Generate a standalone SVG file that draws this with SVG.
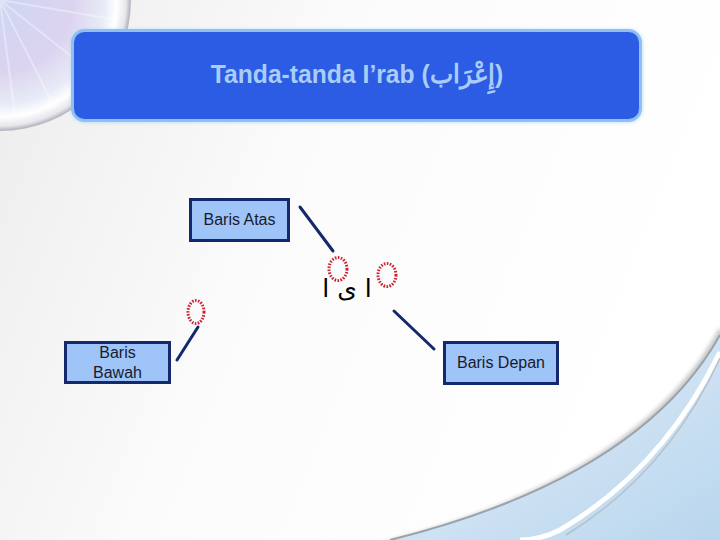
<svg xmlns="http://www.w3.org/2000/svg" width="720" height="540" viewBox="0 0 720 540">
  <defs>
    <linearGradient id="bg" x1="0" y1="0" x2="1" y2="0.3">
      <stop offset="0" stop-color="#ececec"/>
      <stop offset="0.45" stop-color="#fbfbfb"/>
      <stop offset="1" stop-color="#ffffff"/>
    </linearGradient>
    <radialGradient id="disc" cx="0" cy="0" r="130" gradientUnits="userSpaceOnUse">
      <stop offset="0" stop-color="#cdd6f2"/>
      <stop offset="0.55" stop-color="#dcd3ef"/>
      <stop offset="0.8" stop-color="#e7ebf7"/>
      <stop offset="0.9" stop-color="#ffffff"/>
      <stop offset="0.97" stop-color="#e6e6ec"/>
      <stop offset="1" stop-color="#b9b9c4"/>
    </radialGradient>
    <linearGradient id="curl" x1="0" y1="0" x2="1" y2="1">
      <stop offset="0" stop-color="#e6f0f8"/>
      <stop offset="1" stop-color="#b9d6ee"/>
    </linearGradient>
    <filter id="sh" x="-10%" y="-10%" width="120%" height="130%">
      <feGaussianBlur stdDeviation="2"/>
    </filter>
  </defs>
  <style>
    .box { fill: #9ec4f8; stroke: #14296b; stroke-width: 3; }
    .lbl { font-family: "Liberation Sans", Arial, sans-serif; font-size: 16px; fill: #1a1a2e; text-anchor: middle; }
    .conn { stroke: #14296b; stroke-width: 3; stroke-linecap: round; fill: none; }
    .ring { fill: none; stroke: #cc2233; stroke-width: 3; stroke-dasharray: 1.6 1.4; }
  </style>

  <rect width="720" height="540" fill="url(#bg)"/>

  <!-- top-left disc decoration -->
  <g id="decor-disc">
    <circle cx="0" cy="0" r="131" fill="url(#disc)"/>
    <path d="M0,0 L118,20 M0,0 L95,75 M0,0 L55,108 M0,0 L15,115" stroke="#ffffff" stroke-width="2" opacity="0.35"/>
  </g>

  <!-- bottom-right page curl -->
  <g id="decor-curl">
    <path d="M722,330 Q640,480 385,545" fill="none" stroke="#555" stroke-width="6" opacity="0.35" filter="url(#sh)"/>
    <path d="M720,335 Q640,478 390,540 L720,540 Z" fill="url(#curl)"/>
    <path d="M720,335 Q640,478 390,540" fill="none" stroke="#9aa3ad" stroke-width="2"/>
    <path d="M720,352 Q662,470 560,530 Q540,540 520,540" fill="none" stroke="#ffffff" stroke-width="5"/>
    <path d="M720,358 Q668,472 566,535" fill="none" stroke="#b6c0cc" stroke-width="1.5"/>
  </g>

  <!-- title -->
  <g id="title">
    <rect x="72" y="30" width="570" height="92" rx="13" fill="#8dbdf0" filter="url(#sh)" opacity="0.6"/>
    <rect x="72.5" y="30.5" width="568" height="90" rx="12" fill="#2b5ce3" stroke="#8ec1f2" stroke-width="3"/>
    <text x="357" y="83" font-family="'Liberation Sans', Arial, sans-serif" font-size="26" font-weight="bold" fill="#a9cdf6" text-anchor="middle" transform="translate(357 0) scale(0.95 1) translate(-357 0)">Tanda-tanda I’rab (إِعْرَاب)</text>
  </g>

  <!-- connectors -->
  <g id="connectors">
    <line class="conn" x1="300" y1="207" x2="333" y2="251"/>
    <line class="conn" x1="198" y1="327" x2="177" y2="360"/>
    <line class="conn" x1="394" y1="311" x2="434" y2="349"/>
  </g>

  <!-- center word -->
  <g id="word">
    <text x="347" y="297" font-family="'DejaVu Sans', 'Noto Sans', sans-serif" font-size="25" fill="#000" text-anchor="middle" direction="rtl">ا ى ا</text>
    <ellipse class="ring" cx="338" cy="269" rx="9" ry="11.5"/>
    <ellipse class="ring" cx="387" cy="275" rx="9" ry="11.5"/>
    <ellipse class="ring" cx="196" cy="312" rx="8" ry="11.5"/>
  </g>

  <g id="baris-atas">
    <rect class="box" x="190.5" y="199.5" width="98" height="41"/>
    <text class="lbl" x="239.5" y="225">Baris Atas</text>
  </g>

  <g id="baris-bawah">
    <rect class="box" x="65.5" y="342.5" width="104" height="40"/>
    <text class="lbl" x="117.5" y="358">Baris</text>
    <text class="lbl" x="117.5" y="378">Bawah</text>
  </g>

  <g id="baris-depan">
    <rect class="box" x="444.5" y="342.5" width="113" height="41"/>
    <text class="lbl" x="501" y="368">Baris Depan</text>
  </g>
</svg>
